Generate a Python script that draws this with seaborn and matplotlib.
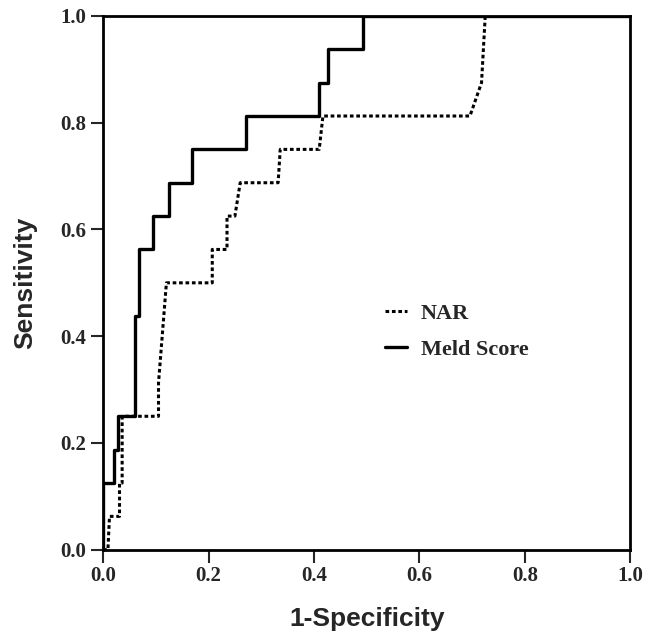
import pandas as pd
import numpy as np
import matplotlib
matplotlib.use('Agg')
import matplotlib.pyplot as plt
import seaborn as sns

# ROC curve points (1-specificity, sensitivity)
meld_fpr = [0.0, 0.0, 0.021, 0.021, 0.028, 0.028, 0.061, 0.061, 0.068, 0.068,
            0.095, 0.095, 0.125, 0.125, 0.169, 0.169, 0.271, 0.271, 0.41, 0.41,
            0.427, 0.427, 0.493, 0.493, 1.0]
meld_tpr = [0.0, 0.125, 0.125, 0.1875, 0.1875, 0.25, 0.25, 0.4375, 0.4375, 0.5625,
            0.5625, 0.625, 0.625, 0.6875, 0.6875, 0.75, 0.75, 0.8125, 0.8125, 0.875,
            0.875, 0.9375, 0.9375, 1.0, 1.0]

nar_fpr = [0.0, 0.009, 0.012, 0.031, 0.031, 0.036, 0.036, 0.105, 0.105, 0.115,
           0.12, 0.207, 0.207, 0.235, 0.235, 0.25, 0.26, 0.332, 0.336, 0.41,
           0.417, 0.696, 0.718, 0.725, 1.0]
nar_tpr = [0.0, 0.0, 0.0625, 0.0625, 0.125, 0.125, 0.25, 0.25, 0.3125, 0.4375,
           0.5, 0.5, 0.5625, 0.5625, 0.625, 0.625, 0.6875, 0.6875, 0.75, 0.75,
           0.8125, 0.8125, 0.875, 1.0, 1.0]

sns.set_style('white')

fig = plt.figure(figsize=(6.53, 6.37), dpi=100)
ax = fig.add_axes([0.158, 0.137, 0.807, 0.838])

sns.lineplot(x=nar_fpr, y=nar_tpr, sort=False, estimator=None, ax=ax,
             color='black', linestyle=(0, (1.2, 0.9)), linewidth=2.2, label='NAR')
sns.lineplot(x=meld_fpr, y=meld_tpr, sort=False, estimator=None, ax=ax,
             color='black', linewidth=2.4, label='Meld Score')

ax.set_xlim(0, 1)
ax.set_ylim(0, 1)
ticks = [0.0, 0.2, 0.4, 0.6, 0.8, 1.0]
ax.set_xticks(ticks)
ax.set_yticks(ticks)
ax.set_xticklabels(['%.1f' % t for t in ticks])
ax.set_yticklabels(['%.1f' % t for t in ticks])
ax.tick_params(direction='out', length=9, width=1.5, bottom=True, left=True,
               top=False, right=False, pad=3)
for lab in ax.get_xticklabels() + ax.get_yticklabels():
    lab.set_fontfamily('Liberation Serif')
    lab.set_fontweight('bold')
    lab.set_fontsize(15)

for sp in ax.spines.values():
    sp.set_visible(True)
    sp.set_color('black')
    sp.set_linewidth(2)

ax.set_xlabel('1-Specificity', fontfamily='Liberation Sans', fontweight='bold',
              fontsize=19)
ax.set_ylabel('Sensitivity', fontfamily='Liberation Sans', fontweight='bold',
              fontsize=19)
ax.xaxis.set_label_coords(0.5, -0.108)
ax.yaxis.set_label_coords(-0.125, 0.5)

leg = ax.legend(loc='center left', bbox_to_anchor=(0.535, 0.409), frameon=False,
                prop={'family': 'Liberation Serif', 'weight': 'bold', 'size': 16},
                handlelength=1.0, handletextpad=0.6, labelspacing=0.7, borderpad=0,
                borderaxespad=0)

fig.savefig('out.png', dpi=100)
